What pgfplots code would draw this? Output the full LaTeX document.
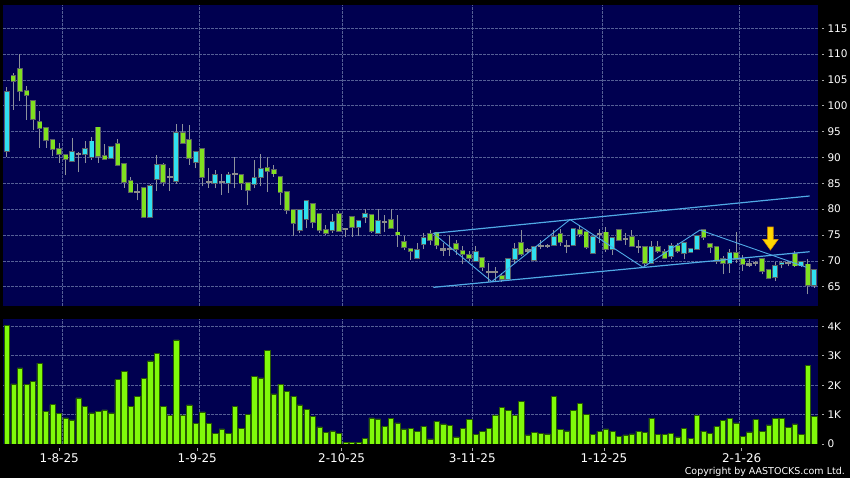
\documentclass[border=0pt]{standalone}
\usepackage{pgfplots}
\pgfplotsset{compat=1.18}
\usepackage{pgfplotstable}
\usepackage{fontspec}
\setmainfont{DejaVu Sans}
\definecolor{navy}{RGB}{0,0,80}
\definecolor{gridc}{RGB}{85,95,150}
\definecolor{tickc}{RGB}{170,170,170}
\definecolor{upc}{RGB}{48,224,240}
\definecolor{dnc}{RGB}{128,224,32}
\definecolor{dojic}{RGB}{140,140,140}
\definecolor{bodyb}{RGB}{90,95,100}
\definecolor{wickc}{RGB}{140,145,155}
\definecolor{volg}{RGB}{128,250,10}
\definecolor{volb}{RGB}{40,90,0}
\definecolor{trend}{RGB}{80,170,230}
\newcommand{\tk}{{\color{tickc}\rule[3.4pt]{2pt}{0.8pt}}\hspace{3.6pt}}
\newcommand{\xtk}{{\color{tickc}\rule{0.8pt}{2.5pt}}}
\pgfplotstableread{
i o h l c
0 91.3 103.7 90.1 102.6
1 105.8 106.3 99.2 104.7
2 107.1 110.1 101.0 102.8
3 102.9 103.8 97.3 102.0
4 101.0 101.2 95.4 97.4
5 96.8 98.9 91.8 95.7
6 95.7 95.7 91.9 93.3
7 93.4 93.4 90.2 91.6
8 91.6 92.8 89.0 90.6
9 90.5 90.5 86.6 89.7
10 89.4 93.7 89.4 91.0
11 90.7 91.1 87.1 90.7
12 90.6 93.1 88.9 91.6
13 90.1 93.9 89.6 93.1
14 95.8 95.8 89.0 90.2
15 90.3 92.6 89.6 89.7
16 89.9 92.3 89.9 92.0
17 92.6 93.6 88.3 88.6
18 88.7 88.7 84.1 85.2
19 85.4 86.3 83.1 83.3
20 83.3 84.9 81.7 83.3
21 84.1 84.1 78.3 78.5
22 78.5 84.8 78.5 84.5
23 85.8 90.4 83.5 88.6
24 88.6 88.9 84.4 85.2
25 86.2 88.0 83.5 86.2
26 85.5 96.5 84.9 94.7
27 94.7 96.5 92.8 92.8
28 93.3 96.2 88.6 89.9
29 89.2 91.0 87.9 91.0
30 91.6 91.6 84.4 86.2
31 85.3 87.9 84.1 85.3
32 85.0 87.6 84.0 86.7
33 85.2 86.8 82.8 85.2
34 85.0 87.1 83.1 86.6
35 86.8 90.1 84.0 86.8
36 86.7 86.7 83.7 85.0
37 85.0 85.0 80.8 83.7
38 84.9 89.5 84.0 86.1
39 86.3 90.6 84.4 87.7
40 87.9 90.1 83.3 87.4
41 87.5 88.5 86.3 86.9
42 86.2 86.2 80.8 83.3
43 83.3 83.3 79.0 79.9
44 79.9 79.9 74.8 77.3
45 76.0 79.9 75.4 79.9
46 78.1 81.6 76.3 81.6
47 81.0 81.0 76.3 77.5
48 79.0 79.0 75.4 75.9
49 75.9 77.0 75.1 75.4
50 75.9 79.1 75.4 77.5
51 79.0 79.6 75.7 75.8
52 76.2 76.2 74.6 76.2
53 78.5 78.5 74.6 76.5
54 76.6 77.8 74.9 77.8
55 78.4 80.0 77.3 79.0
56 78.8 79.1 75.4 75.7
57 75.4 80.0 75.4 77.8
58 77.6 78.9 75.6 77.6
59 77.9 80.0 76.3 76.3
60 75.5 78.8 72.7 75.1
61 73.6 74.9 72.1 72.6
62 72.3 72.3 70.2 71.9
63 70.6 73.4 70.3 72.1
64 73.3 75.4 72.2 74.4
65 75.2 76.0 73.1 74.1
66 75.5 75.5 72.2 73.1
67 72.2 73.4 70.9 72.2
68 72.3 75.0 70.9 72.3
69 73.2 74.1 71.2 72.2
70 72.0 72.8 69.3 71.4
71 71.2 72.0 69.9 70.5
72 70.0 72.9 70.0 71.8
73 70.5 70.5 68.0 68.8
74 67.8 69.6 66.0 67.8
75 67.8 68.8 66.0 67.8
76 67.0 67.7 66.0 66.5
77 66.5 70.4 66.5 70.4
78 70.4 73.4 69.3 72.3
79 73.4 76.0 70.9 71.4
80 72.0 72.5 71.5 72.0
81 70.2 72.7 70.2 72.7
82 72.9 74.1 72.2 72.9
83 72.9 73.3 72.5 72.9
84 73.1 76.0 73.1 74.7
85 75.2 76.1 72.9 73.6
86 72.9 74.1 71.5 72.9
87 73.1 76.1 72.9 76.1
88 76.0 77.0 74.7 75.2
89 75.6 76.0 72.2 72.7
90 71.6 74.7 71.6 74.7
91 75.2 76.1 73.4 75.2
92 75.5 76.5 71.8 72.3
93 72.3 74.6 71.2 74.5
94 75.9 75.9 73.8 74.1
95 74.2 75.4 73.1 74.2
96 74.6 75.9 72.8 72.9
97 72.7 74.1 71.5 72.7
98 72.7 72.7 69.1 69.5
99 69.6 73.8 69.3 72.7
100 72.7 73.8 71.5 71.9
101 71.7 72.2 70.3 70.6
102 70.9 73.5 70.3 72.9
103 72.9 73.5 71.5 71.9
104 71.5 73.6 70.3 73.5
105 71.7 72.3 71.6 72.3
106 72.3 74.9 72.2 74.9
107 75.9 75.9 74.1 74.6
108 73.3 73.3 71.5 72.7
109 72.7 72.7 69.4 69.9
110 70.3 70.9 67.4 69.5
111 69.5 72.2 67.7 71.5
112 71.5 75.5 69.6 70.3
113 70.3 71.2 68.0 69.3
114 69.3 70.3 68.8 69.3
115 69.6 70.0 69.0 69.6
116 70.4 70.4 67.4 68.1
117 68.3 68.3 66.4 66.7
118 66.9 69.7 66.1 69.1
119 69.3 70.0 68.6 69.6
120 69.5 70.0 69.0 69.5
121 71.4 71.9 68.9 69.1
122 69.1 69.9 68.9 69.7
123 69.3 70.3 63.5 65.4
124 65.4 68.3 64.8 68.3
}\ohlc
\pgfplotstableread{
i v
0 4.02
1 2.04
2 2.59
3 2.02
4 2.13
5 2.75
6 1.11
7 1.34
8 1.04
9 0.89
10 0.82
11 1.57
12 1.29
13 1.06
14 1.12
15 1.16
16 1.06
17 2.19
18 2.48
19 1.27
20 1.62
21 2.22
22 2.82
23 3.07
24 1.27
25 0.97
26 3.54
27 0.99
28 1.33
29 0.69
30 1.09
31 0.71
32 0.36
33 0.51
34 0.37
35 1.27
36 0.54
37 1.00
38 2.29
39 2.25
40 3.17
41 1.70
42 2.03
43 1.80
44 1.63
45 1.33
46 1.17
47 0.93
48 0.58
49 0.40
50 0.45
51 0.35
52 0.06
53 0.06
54 0.06
55 0.20
56 0.89
57 0.85
58 0.59
59 0.87
60 0.72
61 0.51
62 0.53
63 0.43
64 0.61
65 0.17
66 0.77
67 0.68
68 0.62
69 0.24
70 0.53
71 0.83
72 0.32
73 0.44
74 0.53
75 0.99
76 1.25
77 1.14
78 0.96
79 1.46
80 0.31
81 0.39
82 0.35
83 0.34
84 1.62
85 0.50
86 0.45
87 1.14
88 1.39
89 1.01
90 0.33
91 0.43
92 0.51
93 0.44
94 0.26
95 0.31
96 0.34
97 0.44
98 0.39
99 0.88
100 0.32
101 0.32
102 0.36
103 0.24
104 0.52
105 0.20
106 0.97
107 0.44
108 0.36
109 0.59
110 0.79
111 0.87
112 0.72
113 0.26
114 0.41
115 0.83
116 0.42
117 0.65
118 0.87
119 0.86
120 0.57
121 0.68
122 0.33
123 2.67
124 0.94
}\vol
\pgfplotsset{
  chartbase/.style={
    scale only axis, anchor=south west,
    width=815pt,
    xmin=-0.61, xmax=124.58,
    axis background/.style={fill=navy},
    axis line style={draw=none},
    tick style={draw=none},
    xtick={8.49,29.54,51.57,71.48,91.5,112.49}, xticklabels={},
    xmajorgrids, ymajorgrids,
    grid style={gridc, dash pattern=on 2.5pt off 1.5pt, line width=0.6pt},
    yticklabel pos=right,
    yticklabel style={anchor=west, inner sep=0pt, xshift=3.7pt, text=white, font=\fontsize{10.5}{12}\selectfont},
  },
  body/.style={draw=none, mark=none, forget plot,
    error bars/.cd, y dir=plus, y explicit, error mark=none},
}
\begin{document}
\begin{tikzpicture}[x=1pt,y=1pt]
\useasboundingbox (0,0) rectangle (850,478);
\fill[black] (0,0) rectangle (850,478);
\begin{axis}[chartbase, at={(3pt,172pt)}, height=301pt,
  ymin=61.27, ymax=119.5,
  ytick={65,70,75,80,85,90,95,100,105,110,115},
  yticklabels={\tk 65,\tk 70,\tk 75,\tk 80,\tk 85,\tk 90,\tk 95,\tk 100,\tk 105,\tk 110,\tk 115},
]
% wicks (low to high)
\addplot[body, error bar style={draw=wickc, line width=1pt}]
  table[x=i, y=l, y error expr={\thisrow{h}-\thisrow{l}}]{\ohlc};
% up bodies
\addplot[body, error bar style={draw=bodyb, line width=5.6pt}]
  table[x=i, y expr={\thisrow{c}>\thisrow{o}+0.01 ? \thisrow{o}-0.18 : nan}, y error expr={\thisrow{c}-\thisrow{o}+0.36}]{\ohlc};
\addplot[body, error bar style={draw=upc, line width=4pt}]
  table[x=i, y expr={\thisrow{c}>\thisrow{o}+0.01 ? \thisrow{o} : nan}, y error expr={\thisrow{c}-\thisrow{o}}]{\ohlc};
% down bodies
\addplot[body, error bar style={draw=bodyb, line width=5.6pt}]
  table[x=i, y expr={\thisrow{c}<\thisrow{o}-0.01 ? \thisrow{c}-0.18 : nan}, y error expr={\thisrow{o}-\thisrow{c}+0.36}]{\ohlc};
\addplot[body, error bar style={draw=dnc, line width=4pt}]
  table[x=i, y expr={\thisrow{c}<\thisrow{o}-0.01 ? \thisrow{c} : nan}, y error expr={\thisrow{o}-\thisrow{c}}]{\ohlc};
% doji
\addplot[body, error bar style={draw=dojic, line width=5.6pt}]
  table[x=i, y expr={abs(\thisrow{c}-\thisrow{o})<0.01 ? \thisrow{o}-0.2 : nan}, y error expr={0.4}]{\ohlc};
% trend channel and zigzag
\addplot[trend, line width=1.2pt, mark=none] coordinates {(65.5,75.33) (123.3,82.55)};
\addplot[trend, line width=1.2pt, mark=none] coordinates {(65.5,64.88) (123.3,71.77)};
\addplot[trend, line width=0.9pt, mark=none] coordinates {(65.5,75.33) (74.45,65.97) (86.5,78.0) (97.7,68.75) (106.45,75.97) (122.8,68.76)};
% arrow annotation
\draw[fill={rgb,255:red,255;green,215;blue,0}, draw={rgb,255:red,225;green,150;blue,0}, line width=0.6pt]
  (axis cs:116.85,76.55) -- (axis cs:117.7,76.55) -- (axis cs:117.7,74.15) -- (axis cs:118.45,74.15)
  -- (axis cs:117.27,72.1) -- (axis cs:116.1,74.15) -- (axis cs:116.85,74.15) -- cycle;
\end{axis}
\begin{axis}[chartbase, at={(3pt,34pt)}, height=124.5pt,
  ymin=0, ymax=4.23,
  ytick={1,2,3,4},
  yticklabels={\tk 1K,\tk 2K,\tk 3K,\tk 4K},
  extra y ticks={0}, extra y tick labels={\tk 0},
  extra y tick style={grid=none},
  extra x ticks={8.03,29.23,51.41,71.48,91.7,112.86},
  extra x tick labels={{\xtk\\[-1.9pt]1-8-25},{\xtk\\[-1.9pt]1-9-25},{\xtk\\[-1.9pt]2-10-25},{\xtk\\[-1.9pt]3-11-25},{\xtk\\[-1.9pt]1-12-25},{\xtk\\[-1.9pt]2-1-26}},
  extra x tick style={grid=none, xticklabel style={anchor=north, align=center, inner sep=0pt, yshift=-3.9pt, text=white, font=\fontsize{12}{14}\selectfont}},
]
\addplot[ybar, bar width=5.3pt, bar shift=0pt, fill=volg, draw=volb, line width=0.5pt] table[x=i, y=v]{\vol};
\end{axis}
\node[anchor=base east, inner sep=0pt, text=white, font=\fontsize{9.5}{11}\selectfont] at (845pt,3.7pt) {Copyright by AASTOCKS.com Ltd.};
\end{tikzpicture}
\end{document}
